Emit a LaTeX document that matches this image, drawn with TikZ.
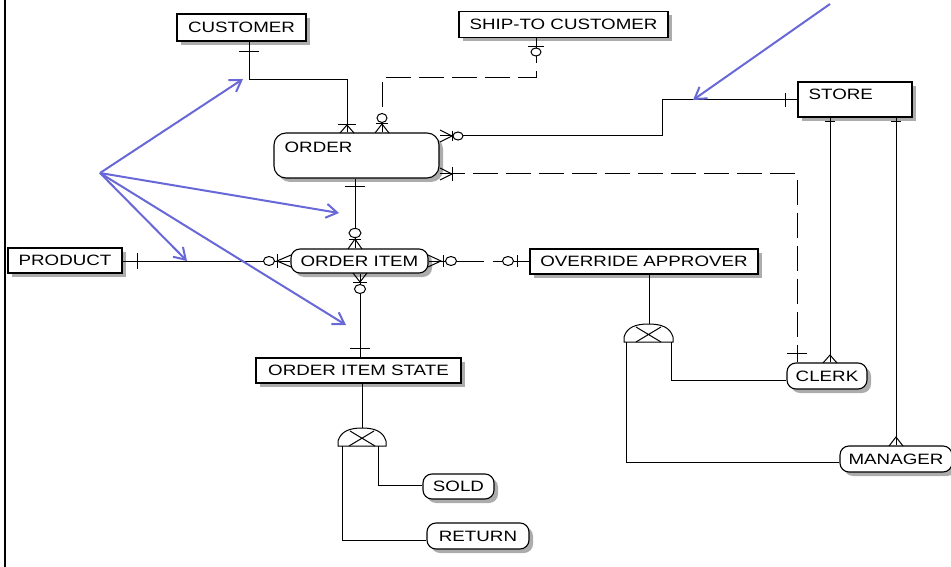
\documentclass[tikz,border=0pt]{standalone}
\usepackage{fontspec}
\setmainfont{Liberation Sans}
\newfontfamily\erfont[FakeStretch=1.25]{Liberation Sans}
\usetikzlibrary{arrows.meta,shadows}
\definecolor{noteblue}{RGB}{104,104,214}

% relationship end marks (pixel-style coordinates, y grows downwards)
\newcommand\erBarV[3]{\draw[rel] ({#1-#3},#2) -- ({#1+#3},#2);}
\newcommand\erBarH[3]{\draw[rel] (#1,{#2-#3}) -- (#1,{#2+#3});}
\newcommand\erRing[4]{\draw[rel,fill=white] (#1,#2) ellipse ({#3pt} and {#4pt});}
\newcommand\erFootV[3]{\draw[rel] ({#1-7},#3) -- (#1,#2) -- ({#1+7},#3);}
\newcommand\erFootH[3]{\draw[rel] (#3,{#2-6}) -- (#1,#2) -- (#3,{#2+6});}

\begin{document}
\begin{tikzpicture}[x=1pt,y=-1pt,
  etext/.style={font=\erfont\fontsize{15pt}{18pt}\selectfont},
  ent/.style={draw, line width=1.1pt, fill=white, inner sep=0pt, etext,
    drop shadow={shadow xshift=4pt, shadow yshift=-4pt, fill=gray!65, opacity=1}},
  dep/.style={ent, rounded corners=9pt},
  rel/.style={line width=1pt, black},
  dashrel/.style={rel, dash pattern=on 25pt off 8pt},
  note/.style={draw=noteblue, line width=2pt, -{Straight Barb[length=11pt,width=14pt]}},
]
\useasboundingbox (0,0) rectangle (951,567);

% frame edge
\draw[line width=2.5pt] (5,0) -- (5,567);

% entities
\node[ent, minimum width=129pt, minimum height=27pt] (cust) at (241.5,27.5) {CUSTOMER};
\node[ent, minimum width=209pt, minimum height=26pt] (stc) at (563.5,24.5) {SHIP-TO CUSTOMER};
\node[ent, rounded corners=12pt, minimum width=165pt, minimum height=45pt,
  label={[etext, anchor=north west, inner sep=0pt, xshift=11pt, yshift=-9pt]north west:ORDER}]
  (order) at (356.5,155.5) {};
\node[ent, minimum width=114pt, minimum height=35pt,
  label={[etext, anchor=north west, inner sep=0pt, xshift=11pt, yshift=-7pt]north west:STORE}]
  (store) at (855,99.5) {};
\node[dep, minimum width=137pt, minimum height=24pt] (oi) at (359.5,261) {ORDER ITEM};
\node[ent, minimum width=114pt, minimum height=25pt] (prod) at (65,260.5) {PRODUCT};
\node[ent, minimum width=228pt, minimum height=25pt] (oa) at (644,261.5) {OVERRIDE APPROVER};
\node[ent, minimum width=205pt, minimum height=25pt] (ois) at (358.5,370.5) {ORDER ITEM STATE};
\node[dep, minimum width=80pt, minimum height=26pt] (clerk) at (827,376) {CLERK};
\node[dep, minimum width=112pt, minimum height=26pt] (mgr) at (896,459) {MANAGER};
\node[dep, minimum width=71pt, minimum height=25pt] (sold) at (458.5,486.5) {SOLD};
\node[dep, minimum width=102pt, minimum height=26pt] (ret) at (478,536) {RETURN};

% relationships
\draw[rel] (249,0 |- cust.south) |- (347,80) -- (347,0 |- order.north);
\erBarV{249}{52}{10}
\erBarV{347}{125}{9}
\erFootV{347}{125}{133}

\draw[dashrel] (536,0 |- stc.south) |- (382,78) -- (382,0 |- order.north);
\erBarV{536}{47}{8}
\erRing{536}{52}{5}{4}
\erRing{382}{118}{5}{4.5}
\erBarV{382}{124}{6}
\erFootV{382}{124}{133}

\draw[rel] (store.west) -- (662,0 |- store.west) -- (662,136) -- (order.east |- 0,136);
\erBarH{785}{100}{7}
\erFootH{452}{136}{440}
\erBarH{452}{136}{5}
\erRing{458}{136}{5}{4}

\draw[dashrel] (order.east |- 0,174) -- (797,174) -- (797,0 |- clerk.north);
\erBarH{452}{174}{7}
\erFootH{452}{174}{440}
\erBarV{797}{353}{10}

\draw[rel] (830,0 |- store.south) -- (830,0 |- clerk.north);
\erBarV{830}{122}{5}
\erFootV{830}{355}{363}

\draw[rel] (896,0 |- store.south) -- (896,0 |- mgr.north);
\erBarV{896}{122}{5}
\erFootV{896}{437}{446}

\draw[rel] (355,0 |- order.south) -- (355,0 |- oi.north);
\erBarV{355}{187}{10}
\erRing{355}{233}{6}{4.5}
\erBarV{355}{239}{6}
\erFootV{355}{239}{249}

\draw[rel] (prod.east |- 0,261) -- (oi.west |- 0,261);
\erBarH{137}{261}{8}
\erRing{269}{261}{5.5}{4.5}
\erBarH{277}{261}{7}
\erFootH{277}{261}{291}

\draw[rel] (360,0 |- oi.south) -- (360,0 |- ois.north);
\erFootV{360}{282}{273}
\erBarV{360}{282}{7}
\erRing{360}{289}{5.5}{4.5}
\erBarV{360}{348}{10}

\draw[rel, dash pattern=on 55pt off 9pt] (oi.east |- 0,261) -- (oa.west |- 0,261);
\erFootH{441}{261}{428}
\erBarH{443}{261}{6}
\erRing{451}{261}{5.5}{4.5}
\erRing{508}{261}{5.5}{4.5}
\erBarH{517}{261}{6}

% subtype category: ORDER ITEM STATE
\draw[rel] (362,0 |- ois.south) -- (362,428);
\draw[rel, fill=white] (338,446) -- (338,441) .. controls (341,431) and (350,428) .. (362,428)
  .. controls (374,428) and (383,431) .. (386,441) -- (386,446) -- cycle;
\draw[rel] (350,431) -- (375,446) (374,431) -- (349,446);
\draw[rel] (342,446) |- (ret.west |- 0,540);
\draw[rel] (378,446) |- (sold.west |- 0,485);

% subtype category: OVERRIDE APPROVER
\draw[rel] (649,0 |- oa.south) -- (649,324);
\draw[rel, fill=white] (624,342) -- (624,337) .. controls (627,327) and (636,324) .. (648.5,324)
  .. controls (661,324) and (670,327) .. (673,337) -- (673,342) -- cycle;
\draw[rel] (636,327) -- (661,342) (661,327) -- (636,342);
\draw[rel] (626,342) |- (mgr.west |- 0,462);
\draw[rel] (671,342) |- (clerk.west |- 0,380);

% annotation arrows
\coordinate (hub) at (100,173);
\coordinate (tA) at (243,79);
\coordinate (tB) at (339,213);
\coordinate (tC) at (187,261);
\coordinate (tD) at (346,325);
\coordinate (srcE) at (830,4);
\coordinate (tE) at (693,100);
\draw[note] (hub) -- (tA);
\draw[note] (hub) -- (tB);
\draw[note] (hub) -- (tC);
\draw[note] (hub) -- (tD);
\draw[note] (srcE) -- (tE);
\end{tikzpicture}
\end{document}
